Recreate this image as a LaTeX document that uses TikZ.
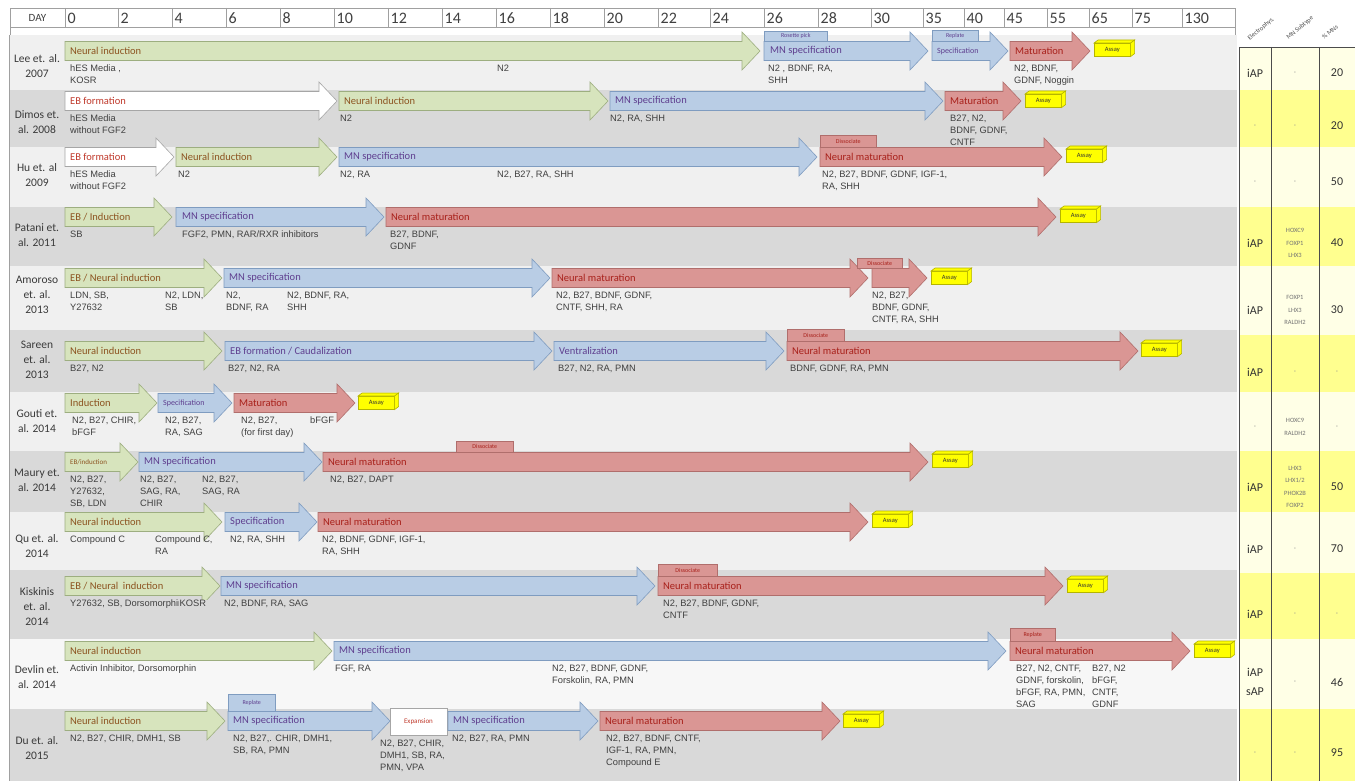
\documentclass[tikz,border=0pt]{standalone}
\usepackage{fontspec}
\setmainfont{Carlito}
\newfontfamily\arialf{Liberation Sans}
\usetikzlibrary{calc}
\definecolor{rowL}{HTML}{F0F0F0}
\definecolor{rowD}{HTML}{D9D9D9}
\definecolor{rowW}{HTML}{F7F7F7}
\definecolor{gF}{HTML}{D7E4BD}
\definecolor{gD}{HTML}{9DAE80}
\definecolor{bF}{HTML}{B9CDE5}
\definecolor{bD}{HTML}{7F9CC0}
\definecolor{rF}{HTML}{DA9694}
\definecolor{rD}{HTML}{B06E6C}
\definecolor{wD}{HTML}{A6A6A6}
\definecolor{gT}{HTML}{8C5320}
\definecolor{bT}{HTML}{5F3F8F}
\definecolor{rT}{HTML}{A8201A}
\definecolor{eT}{HTML}{C0392B}
\definecolor{condC}{HTML}{404040}
\definecolor{studyC}{HTML}{3A3A3A}
\definecolor{yF}{HTML}{FFFF00}
\definecolor{yD}{HTML}{B5B500}
\definecolor{tL}{HTML}{FFFFE6}
\definecolor{tD}{HTML}{FFFF8F}
\definecolor{gridC}{HTML}{A0A0A0}
\newcommand\barrow[4]{\draw[#4] (#1,#3-9.5) -- (#2-18,#3-9.5) -- (#2-18,#3-19) -- (#2,#3) -- (#2-18,#3+19) -- (#2-18,#3+9.5) -- (#1,#3+9.5) -- cycle;}
\tikzset{
  gA/.style={fill=gF,draw=gD,line width=0.6pt},
  bA/.style={fill=bF,draw=bD,line width=0.6pt},
  rA/.style={fill=rF,draw=rD,line width=0.6pt},
  wA/.style={fill=white,draw=wD,line width=0.6pt},
  lab/.style={anchor=west,inner sep=0pt,font=\fontsize{10.5}{12}\selectfont},
  labs/.style={anchor=west,inner sep=0pt,font=\fontsize{8}{9}\selectfont},
  gL/.style={lab,text=gT}, bL/.style={lab,text=bT}, rL/.style={lab,text=rT}, eL/.style={lab,text=eT},
  cond/.style={anchor=north west,inner sep=0pt,align=left,text=condC,font=\arialf\fontsize{9.3}{11.8}\selectfont},
  study/.style={align=center,inner sep=0pt,text=studyC,font=\fontsize{11.5}{15}\selectfont},
  tabB/.style={fill=bF,draw=bD,line width=0.5pt,anchor=south west,inner sep=0pt,text=bT,font=\fontsize{6}{7}\selectfont},
  tabR/.style={fill=rF,draw=rD,line width=0.5pt,anchor=south west,inner sep=0pt,text=rT,font=\fontsize{6}{7}\selectfont},
  assayN/.style={fill=yF,draw=yD,line width=0.6pt,anchor=north west,minimum width=36pt,minimum height=13pt,inner sep=0pt,font=\fontsize{6.5}{7}\selectfont,text=black!80},
  a3d/.style={fill=yF,draw=yD,line width=0.6pt},
  hd/.style={anchor=west,inner sep=0pt,text=black!75,font=\fontsize{16}{16}\selectfont},
  tv/.style={inner sep=0pt,text=black!80,font=\fontsize{12}{15}\selectfont},
  sub/.style={inner sep=0pt,align=center,text=black!55,font=\fontsize{6.5}{12.5}\selectfont},
  dsh/.style={inner sep=0pt,text=black!45,font=\fontsize{7}{8}\selectfont},
  rot/.style={inner sep=0pt,rotate=40,text=black!70,font=\fontsize{6.5}{7}\selectfont},
}
\newcommand\assay[3]{%
  \node[assayN] (#1) at (#2,#3) {Assay};
  \draw[a3d] (#1.north west) -- ([shift={(4pt,3pt)}]#1.north west) -- ([shift={(4pt,3pt)}]#1.north east) -- (#1.north east) -- cycle;
  \draw[a3d] (#1.north east) -- ([shift={(4pt,3pt)}]#1.north east) -- ([shift={(4pt,3pt)}]#1.south east) -- (#1.south east) -- cycle;
}
\begin{document}
\begin{tikzpicture}[x=1pt,y=-1pt]
\useasboundingbox (0,0) rectangle (1355,781);
\fill[white] (0,0) rectangle (1355,781);
% header
\draw[gridC,fill=white] (10,8) rectangle (1235,27);
\draw[gridC,fill=white] (10,27) rectangle (1235,35);
\node[inner sep=0pt,text=black!75,font=\fontsize{11}{11}\selectfont] (day) at (37.5,18) {DAY};
\foreach \x/\l [count=\i] in {65/0,118/2,172/4,226/6,280/8,334/10,388/12,442/14,496/16,550/18,604/20,658/22,710/24,764/26,818/28,871/30,923/35,964/40,1004/45,1047/55,1089/65,1132/75,1182/130}{
  \draw[gridC] (\x,8) -- (\x,27);
  \node[hd] (h\i) at (\x+2.5,18.5) {\l};
}
% row backgrounds
\fill[rowL] (10,35) rectangle (1237,90);
\fill[rowD] (10,90) rectangle (1237,147);
\fill[rowL] (10,147) rectangle (1237,207);
\fill[rowD] (10,207) rectangle (1237,266);
\fill[rowL] (10,266) rectangle (1237,330);
\fill[rowD] (10,330) rectangle (1237,392);
\fill[rowL] (10,392) rectangle (1237,451);
\fill[rowD] (10,451) rectangle (1237,512);
\fill[rowL] (10,512) rectangle (1237,570);
\fill[rowD] (10,570) rectangle (1237,639);
\fill[rowW] (10,639) rectangle (1237,709);
\fill[rowD] (10,709) rectangle (1237,781);
\draw[gridC,line width=1pt] (9,35) -- (9,781);
% table
\fill[tL] (1239,47) rectangle (1355,90);
\fill[tD] (1239,90) rectangle (1355,147);
\fill[tL] (1239,147) rectangle (1355,207);
\fill[tD] (1239,207) rectangle (1355,266);
\fill[tL] (1239,266) rectangle (1355,335);
\fill[tD] (1239,335) rectangle (1355,392);
\fill[tL] (1239,392) rectangle (1355,451);
\fill[tD] (1239,451) rectangle (1355,512);
\fill[tL] (1239,512) rectangle (1355,573);
\fill[tD] (1239,573) rectangle (1355,639);
\fill[tL] (1239,639) rectangle (1355,709);
\fill[tD] (1239,709) rectangle (1355,781);
\draw[black!70,line width=0.7pt] (1239,47) -- (1355,47);
\draw[black!70,line width=0.7pt] (1239,47) -- (1239,781);
\draw[black!70,line width=0.7pt] (1271,47) -- (1271,781);
\draw[black!70,line width=0.7pt] (1319,47) -- (1319,781);
\node[rot] (c1) at (1261,29) {Electrophys.};
\node[rot] (c2) at (1300,28) {MN Subtype};
\node[rot] (c3) at (1330,32) {\% MNs};
% study labels
\node[study] (s1) at (37,66) {Lee et. al.\\2007};
\node[study] (s2) at (37,122) {Dimos et.\\al. 2008};
\node[study] (s3) at (37,175) {Hu et. al\\2009};
\node[study] (s4) at (37,235) {Patani et.\\al. 2011};
\node[study] (s5) at (37,295) {Amoroso\\et. al.\\2013};
\node[study] (s6) at (37,360) {Sareen\\et. al.\\2013};
\node[study] (s7) at (37,421) {Gouti et.\\al. 2014};
\node[study] (s8) at (37,480) {Maury et.\\al. 2014};
\node[study] (s9) at (37,546) {Qu et. al.\\2014};
\node[study] (s10) at (37,607) {Kiskinis\\et. al.\\2014};
\node[study] (s11) at (37,677) {Devlin et.\\al. 2014};
\node[study] (s12) at (37,748) {Du et. al.\\2015};
% ---- Lee
\barrow{65}{760}{51}{gA}
\node[gL] (l1) at (70,51) {Neural induction};
\node[cond] (lc1) at (70,65) {hES Media ,\\KOSR};
\node[cond] (lc2) at (497,65) {N2};
\node[tabB,minimum width=63pt,minimum height=10pt] (lt1) at (764,41.5) {Rosette pick};
\barrow{764}{928}{51}{bA}
\node[bL] (l2) at (770,51) {MN specification};
\node[cond] (lc3) at (768,65) {N2 , BDNF, RA,\\SHH};
\node[tabB,minimum width=46pt,minimum height=11pt] (lt2) at (932,41.5) {Replate};
\barrow{932}{1008}{51}{bA}
\node[labs,text=bT] (l3) at (937,51) {Specification};
\barrow{1010}{1090}{51}{rA}
\node[rL] (l4) at (1015,51) {Maturation};
\node[cond] (lc4) at (1014,65) {N2, BDNF,\\GDNF, Noggin};
\assay{la}{1094}{43}
% ---- Dimos
\barrow{65}{337}{101}{wA}
\node[eL] (d1) at (70,101) {EB formation};
\node[cond] (dc1) at (70,115) {hES Media\\without FGF2};
\barrow{339}{608}{101}{gA}
\node[gL] (d2) at (344,101) {Neural induction};
\node[cond] (dc2) at (340,115) {N2};
\barrow{610}{943}{101}{bA}
\node[bL] (d3) at (615,101) {MN specification};
\node[cond] (dc3) at (610,115) {N2, RA, SHH};
\barrow{945}{1021}{101}{rA}
\node[rL] (d4) at (950,101) {Maturation};
\node[cond] (dc4) at (950,115) {B27, N2,\\BDNF, GDNF,\\CNTF};
\assay{da}{1025}{94}
% ---- Hu
\barrow{65}{174}{157}{wA}
\node[eL] (u1) at (70,157) {EB formation};
\node[cond] (uc1) at (70,171) {hES Media\\without FGF2};
\barrow{176}{337}{157}{gA}
\node[gL] (u2) at (181,157) {Neural induction};
\node[cond] (uc2) at (178,171) {N2};
\barrow{339}{817}{157}{bA}
\node[bL] (u3) at (344,157) {MN specification};
\node[cond] (uc3) at (340,171) {N2, RA};
\node[cond] (uc4) at (497,171) {N2, B27, RA, SHH};
\node[tabR,minimum width=56pt,minimum height=12pt] (ut1) at (820,147.5) {Dissociate};
\barrow{820}{1062}{157}{rA}
\node[rL] (u4) at (825,157) {Neural maturation};
\node[cond] (uc5) at (822,171) {N2, B27, BDNF, GDNF, IGF-1,\\RA, SHH};
\assay{ua}{1066}{149}
% ---- Patani
\barrow{65}{172}{217}{gA}
\node[gL] (p1) at (70,217) {EB / Induction};
\node[cond] (pc1) at (70,231) {SB};
\barrow{176}{384}{217}{bA}
\node[bL] (p2) at (182,217) {MN specification};
\node[cond] (pc2) at (182,231) {FGF2, PMN, RAR/RXR inhibitors};
\barrow{386}{1056}{217}{rA}
\node[rL] (p3) at (391,217) {Neural maturation};
\node[cond] (pc3) at (390,231) {B27, BDNF,\\GDNF};
\assay{pa}{1060}{209}
% ---- Amoroso
\barrow{65}{222}{278}{gA}
\node[gL] (a1) at (70,278) {EB / Neural induction};
\node[cond] (ac1) at (70,292) {LDN, SB,\\Y27632};
\node[cond] (ac2) at (165,292) {N2, LDN,\\SB};
\barrow{224}{550}{278}{bA}
\node[bL] (a2) at (229,278) {MN specification};
\node[cond] (ac3) at (226,292) {N2,\\BDNF, RA};
\node[cond] (ac4) at (287,292) {N2, BDNF, RA,\\SHH};
\barrow{552}{868}{278}{rA}
\node[rL] (a3) at (557,278) {Neural maturation};
\node[cond] (ac5) at (556,292) {N2, B27, BDNF, GDNF,\\CNTF, SHH, RA};
\node[tabR,minimum width=45pt,minimum height=10pt] (at1) at (857,268.5) {Dissociate};
\barrow{872}{927}{278}{rA}
\node[cond] (ac6) at (872,292) {N2, B27,\\BDNF, GDNF,\\CNTF, RA, SHH};
\assay{aa}{931}{271}
% ---- Sareen
\barrow{65}{222}{351}{gA}
\node[gL] (r1) at (70,351) {Neural induction};
\node[cond] (rc1) at (70,365) {B27, N2};
\barrow{225}{552}{351}{bA}
\node[bL] (r2) at (230,351) {EB formation / Caudalization};
\node[cond] (rc2) at (228,365) {B27, N2, RA};
\barrow{554}{784}{351}{bA}
\node[bL] (r3) at (559,351) {Ventralization};
\node[cond] (rc3) at (558,365) {B27, N2, RA, PMN};
\node[tabR,minimum width=57pt,minimum height=12pt] (rt1) at (787,341.5) {Dissociate};
\barrow{787}{1138}{351}{rA}
\node[rL] (r4) at (792,351) {Neural maturation};
\node[cond] (rc4) at (790,365) {BDNF, GDNF, RA, PMN};
\assay{ra}{1141}{343}
% ---- Gouti
\barrow{65}{157}{403}{gA}
\node[gL] (g1) at (70,403) {Induction};
\node[cond] (gc1) at (72,417) {N2, B27, CHIR,\\bFGF};
\barrow{158}{232}{403}{bA}
\node[labs,text=bT] (g2) at (163,403) {Specification};
\node[cond] (gc2) at (165,417) {N2, B27,\\RA, SAG};
\barrow{234}{355}{403}{rA}
\node[rL] (g3) at (239,403) {Maturation};
\node[cond] (gc3) at (241,417) {N2, B27,\\(for first day)};
\node[cond] (gc4) at (310,417) {bFGF};
\assay{ga}{358}{396}
% ---- Maury
\barrow{65}{138}{462}{gA}
\node[labs,text=gT,font=\fontsize{7}{8}\selectfont] (m1) at (70,462) {EB/induction};
\node[cond] (mc1) at (70,476) {N2, B27,\\Y27632,\\SB, LDN};
\barrow{139}{322}{462}{bA}
\node[bL] (m2) at (144,462) {MN specification};
\node[cond] (mc2) at (140,476) {N2, B27,\\SAG, RA,\\CHIR};
\node[cond] (mc3) at (202,476) {N2, B27,\\SAG, RA};
\barrow{323}{928}{462}{rA}
\node[tabR,minimum width=57pt,minimum height=11pt] (mt1) at (456,452.5) {Dissociate};
\node[rL] (m3) at (328,462) {Neural maturation};
\node[cond] (mc4) at (330,476) {N2, B27, DAPT};
\assay{ma}{932}{454}
% ---- Qu
\barrow{65}{222}{522}{gA}
\node[gL] (q1) at (70,522) {Neural induction};
\node[cond] (qc1) at (70,536) {Compound C};
\node[cond] (qc2) at (155,536) {Compound C,\\RA};
\barrow{225}{317}{522}{bA}
\node[bL] (q2) at (230,522) {Specification};
\node[cond] (qc3) at (230,536) {N2, RA, SHH};
\barrow{318}{868}{522}{rA}
\node[rL] (q3) at (323,522) {Neural maturation};
\node[cond] (qc4) at (322,536) {N2, BDNF, GDNF, IGF-1,\\RA, SHH};
\assay{qa}{872}{514}
% ---- Kiskinis
\barrow{65}{220}{586}{gA}
\node[gL] (k1) at (70,586) {EB / Neural\ \ induction};
\node[cond] (kc1) at (70,600) {Y27632, SB, Dorsomorphin};
\node[cond,fill=rowD,inner sep=0.5pt] (kc2) at (179,599.5) {KOSR};
\barrow{221}{655}{586}{bA}
\node[bL] (k2) at (226,586) {MN specification};
\node[cond] (kc3) at (224,600) {N2, BDNF, RA, SAG};
\node[tabR,minimum width=59pt,minimum height=12pt] (kt1) at (658,576.5) {Dissociate};
\barrow{658}{1063}{586}{rA}
\node[rL] (k3) at (663,586) {Neural maturation};
\node[cond] (kc4) at (663,600) {N2, B27, BDNF, GDNF,\\CNTF};
\assay{ka}{1067}{579}
% ---- Devlin
\barrow{65}{332}{651}{gA}
\node[gL] (v1) at (70,651) {Neural induction};
\node[cond] (vc1) at (70,665) {Activin Inhibitor, Dorsomorphin};
\barrow{334}{1006}{651}{bA}
\node[bL] (v2) at (339,651) {MN specification};
\node[cond] (vc2) at (335,665) {FGF, RA};
\node[cond] (vc3) at (552,665) {N2, B27, BDNF, GDNF,\\Forskolin, RA, PMN};
\node[tabR,minimum width=45pt,minimum height=13pt] (vt1) at (1010,641.5) {Replate};
\barrow{1010}{1190}{651}{rA}
\node[rL] (v3) at (1015,651) {Neural maturation};
\node[cond] (vc4) at (1016,665) {B27, N2, CNTF,\\GDNF, forskolin,\\bFGF, RA, PMN,\\SAG};
\node[cond] (vc5) at (1092,665) {B27, N2\\bFGF,\\CNTF,\\GDNF};
\assay{va}{1194}{644}
% ---- Du
\barrow{65}{225}{721}{gA}
\node[gL] (w1) at (70,721) {Neural induction};
\node[cond] (wc1) at (70,735) {N2, B27, CHIR, DMH1, SB};
\node[tabB,minimum width=47pt,minimum height=17pt] (wt1) at (228,711.5) {Replate};
\barrow{228}{390}{721}{bA}
\node[bL] (w2) at (233,721) {MN specification};
\node[cond] (wc2) at (233,735) {N2, B27,. CHIR, DMH1,\\SB, RA, PMN};
\node[draw=wD,fill=white,line width=0.6pt,minimum width=57pt,minimum height=27pt,inner sep=0pt,text=eT,font=\fontsize{7}{8}\selectfont] (wx) at (418.5,722) {Expansion};
\node[cond] (wc3) at (380,740) {N2, B27, CHIR,\\DMH1, SB, RA,\\PMN, VPA};
\barrow{448}{598}{721}{bA}
\node[bL] (w3) at (453,721) {MN specification};
\node[cond] (wc4) at (452,735) {N2, B27, RA, PMN};
\barrow{600}{840}{721}{rA}
\node[rL] (w4) at (605,721) {Neural maturation};
\node[cond] (wc5) at (606,735) {N2, B27, BDNF, CNTF,\\IGF-1, RA, PMN,\\Compound E};
\assay{wa}{843}{714}
% ---- table values
\node[tv] (e1) at (1255,73) {iAP};   \node[dsh] (m1t) at (1295,73) {-};  \node[tv] (p1t) at (1337,73) {20};
\node[dsh] (e2) at (1255,126) {-};   \node[dsh] (m2t) at (1295,126) {-}; \node[tv] (p2t) at (1337,126) {20};
\node[dsh] (e3) at (1255,182) {-};   \node[dsh] (m3t) at (1295,182) {-}; \node[tv] (p3t) at (1337,182) {50};
\node[tv] (e4) at (1255,243) {iAP};  \node[sub] (m4t) at (1295,243) {HOXC9\\FOXP1\\LHX3}; \node[tv] (p4t) at (1337,243) {40};
\node[tv] (e5) at (1255,310) {iAP};  \node[sub] (m5t) at (1295,310) {FOXP1\\LHX3\\RALDH2}; \node[tv] (p5t) at (1337,310) {30};
\node[tv] (e6) at (1255,372) {iAP};  \node[dsh] (m6t) at (1295,372) {-}; \node[dsh] (p6t) at (1337,372) {-};
\node[dsh] (e7) at (1255,427) {-};   \node[sub] (m7t) at (1295,427) {HOXC9\\RALDH2}; \node[dsh] (p7t) at (1337,427) {-};
\node[tv] (e8) at (1255,487) {iAP};  \node[sub] (m8t) at (1295,487) {LHX3\\LHX1/2\\PHOX2B\\FOXP2}; \node[tv] (p8t) at (1337,487) {50};
\node[tv] (e9) at (1255,549) {iAP};  \node[dsh] (m9t) at (1295,549) {-}; \node[tv] (p9t) at (1337,549) {70};
\node[tv] (e10) at (1255,614) {iAP}; \node[dsh] (m10t) at (1295,614) {-}; \node[dsh] (p10t) at (1337,614) {-};
\node[tv,align=center,font=\fontsize{12}{19}\selectfont] (e11) at (1255,682) {iAP\\sAP}; \node[dsh] (m11t) at (1295,682) {-}; \node[tv] (p11t) at (1337,682) {46};
\node[dsh] (e12) at (1255,753) {-};  \node[dsh] (m12t) at (1295,753) {-}; \node[tv] (p12t) at (1337,753) {95};
\end{tikzpicture}
\end{document}
